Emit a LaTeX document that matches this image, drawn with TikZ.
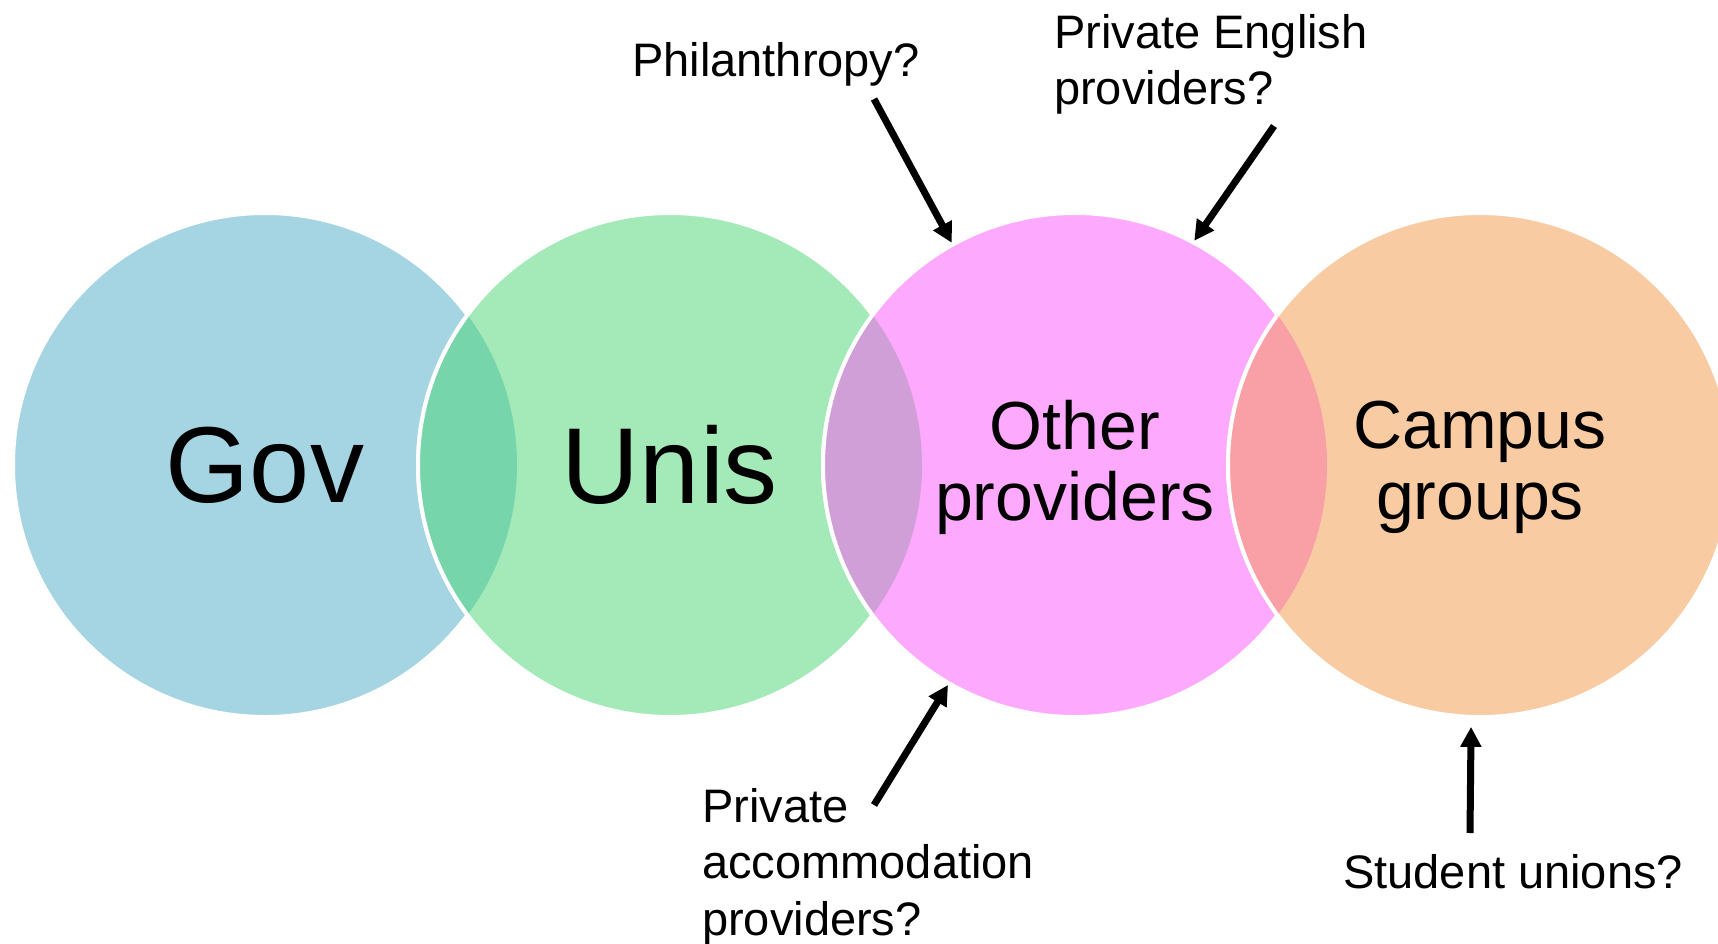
\documentclass[tikz,border=0pt]{standalone}
\usepackage{fontspec}
\setmainfont{Liberation Sans}
\usetikzlibrary{positioning,arrows.meta}

\definecolor{govblue}{HTML}{A5D5E2}
\definecolor{unisgreen}{HTML}{A3EAB8}
\definecolor{othpink}{HTML}{FDA9FD}
\definecolor{campeach}{HTML}{F9CBA3}
\definecolor{lensgu}{HTML}{76D5AA}
\definecolor{lensuo}{HTML}{D09FD8}
\definecolor{lensoc}{HTML}{F8A0A5}

\tikzset{
  sector/.style={circle,minimum size=504pt,inner sep=0pt,draw=white,line width=4pt,fill=#1},
  bigname/.style={font=\fontsize{108}{120}\selectfont},
  midname/.style={align=center,font=\fontsize{68}{71}\selectfont},
  query/.style={inner sep=0pt,align=left,font=\fontsize{47}{56.5}\selectfont},
  pointer/.style={line width=7pt,-{Triangle[length=20pt,width=20pt]}},
}

\begin{document}
\begin{tikzpicture}[x=1pt,y=-1pt]
	\useasboundingbox (0,0) rectangle (1718,943);
	%
	\node[sector=govblue,bigname] (gov) at (265,465) {Gov};
	\node[sector=unisgreen,bigname,right=-103pt of gov] (unis) {Unis};
	\node[sector=othpink,midname,right=-103pt of unis] (oth) {Other\\providers\\[-62pt]};
	\node[sector=campeach,midname,right=-103pt of oth] (cam) {Campus\\groups\\[-62pt]};
	%
	\begin{scope}
		\clip (gov.center) circle[radius=252pt];
		\fill[lensgu] (unis.center) circle[radius=252pt];
		\draw[white,line width=4pt] (unis.center) circle[radius=252pt];
	\end{scope}
	\begin{scope}
		\clip (unis.center) circle[radius=252pt];
		\fill[lensuo] (oth.center) circle[radius=252pt];
		\draw[white,line width=4pt] (oth.center) circle[radius=252pt];
	\end{scope}
	\begin{scope}
		\clip (oth.center) circle[radius=252pt];
		\fill[lensoc] (cam.center) circle[radius=252pt];
		\draw[white,line width=4pt] (cam.center) circle[radius=252pt];
	\end{scope}
	%
	\node[query,anchor=base west] (phil) at (632,76) {Philanthropy?};
	\node[query,anchor=north west] (eng) at (1054,14) {Private English\\providers?};
	\node[query,anchor=north west] (acc) at (702,788) {Private\\accommodation\\providers?};
	\node[query,anchor=base west] (stu) at (1343,888) {Student unions?};
	%
	\coordinate (philtail) at (874,99);
	\coordinate (engtail) at (1274,126);
	\coordinate (acctail) at (874,805);
	\coordinate (stutail) at (1470,833);
	\draw[pointer] (philtail) -- (oth.119);
	\draw[pointer] (engtail) -- (oth.62);
	\draw[pointer] (acctail) -- (oth.240);
	\draw[pointer,shorten >=8pt] (stutail) -- (cam.268);
\end{tikzpicture}
\end{document}
